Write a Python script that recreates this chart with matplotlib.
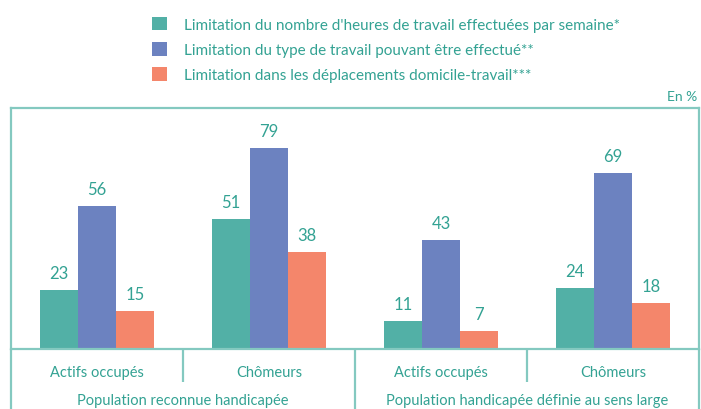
import matplotlib
matplotlib.use("Agg")
import matplotlib.pyplot as plt
import matplotlib.transforms as mtransforms
import numpy as np

plt.rcParams['font.family'] = ['Lato', 'DejaVu Sans']

# Data
categories = ["Actifs occupés", "Chômeurs", "Actifs occupés", "Chômeurs"]
groups = ["Population reconnue handicapée", "Population handicapée définie au sens large"]
series_labels = [
    "Limitation du nombre d'heures de travail effectuées par semaine*",
    "Limitation du type de travail pouvant être effectué**",
    "Limitation dans les déplacements domicile-travail***",
]
heures = [23, 51, 11, 24]
type_travail = [56, 79, 43, 69]
deplacements = [15, 38, 7, 18]

colors = ['#52B0A6', '#6C82C0', '#F4866B']
text_color = '#33A293'
line_color = '#84C9C0'

fig = plt.figure(figsize=(7.01, 4.10), dpi=100)
W, H = 701, 410
ax = fig.add_axes([11 / W, (H - 350) / H, (699 - 11) / W, (350 - 109) / H])

x = np.arange(len(categories))
width = 0.222
series = [heures, type_travail, deplacements]
bars = []
for i, (vals, c, lab) in enumerate(zip(series, colors, series_labels)):
    b = ax.bar(x + (i - 1) * width, vals, width, color=c, label=lab, zorder=2)
    bars.append(b)
    for xi, v in zip(x + (i - 1) * width, vals):
        ax.annotate(str(v), (xi, v), xytext=(0, 6.5), textcoords='offset points',
                    ha='center', va='bottom', fontsize=12, color=text_color)

ax.set_xlim(-0.5, 3.5)
ax.set_ylim(0, 94.7)
ax.set_xticks([])
ax.set_yticks([])
for s in ax.spines.values():
    s.set_color(line_color)
    s.set_linewidth(1.6)

# category axis below the plot
trans = mtransforms.blended_transform_factory(ax.transData, ax.transAxes)
bottom = -62 / 241
short = -33 / 241
for xs, y0 in [(-0.5, bottom), (0.5, short), (1.5, bottom), (2.5, short), (3.5, bottom)]:
    ax.plot([xs, xs], [0, y0], transform=trans, color=line_color, lw=1.6,
            clip_on=False, solid_capstyle='butt')

for xi, cat in zip(x, categories):
    ax.text(xi, -23 / 241, cat, transform=trans, ha='center', va='center',
            fontsize=10.5, color=text_color)
for gi, g in enumerate(groups):
    ax.text(gi * 2 + 0.5, -51 / 241, g, transform=trans, ha='center', va='center',
            fontsize=10.5, color=text_color)

fig.text(697 / W, 1 - 97 / H, "En %", ha='right', va='center', fontsize=10,
         color=text_color)

leg = fig.legend(handles=bars, labels=series_labels, loc='upper left',
                 bbox_to_anchor=(138 / W, 1 - 4 / H), frameon=False,
                 fontsize=11, handlelength=1.0, handleheight=1.0,
                 handletextpad=1.1, labelspacing=0.66)
for t in leg.get_texts():
    t.set_color(text_color)

fig.savefig("out.png", dpi=100)
